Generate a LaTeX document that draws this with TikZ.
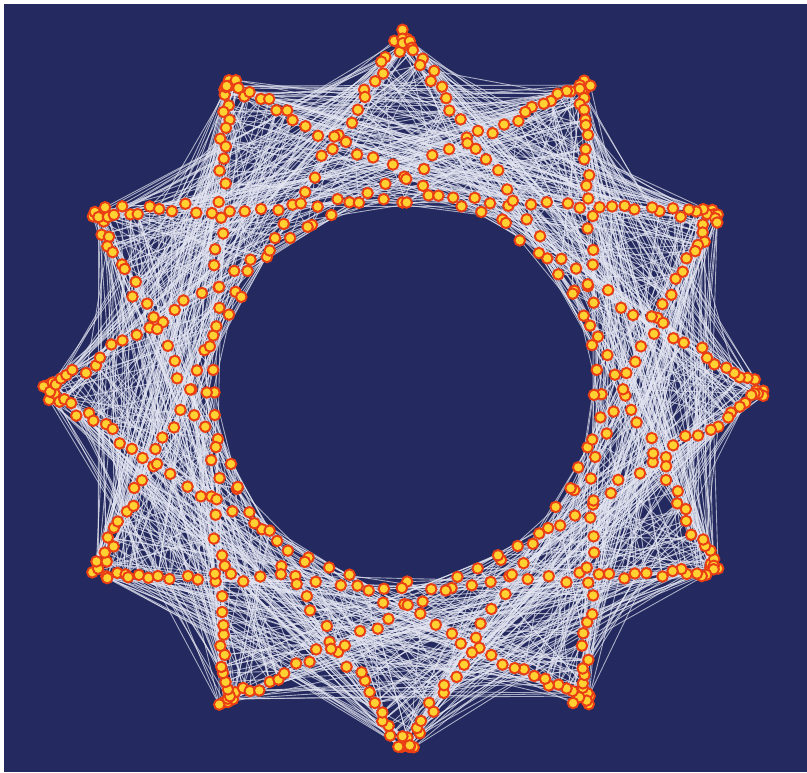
\documentclass[tikz,border=0pt]{standalone}
\definecolor{night}{RGB}{36,42,95}
\definecolor{strand}{RGB}{228,230,242}
\definecolor{bead}{RGB}{255,210,50}
\definecolor{beadrim}{RGB}{234,62,20}
\tikzset{
  edge/.style={strand, line width=0.5pt, opacity=0.7},
  bead/.style={circle, fill=bead, draw=beadrim, line width=1.1pt,
               minimum size=6pt, inner sep=0pt},
}
\begin{document}
\begin{tikzpicture}[x=2cm, y=2cm]
  \useasboundingbox (-4.05,-3.80) rectangle (4.02,3.92);
  \fill[white] (-4.05,-3.80) rectangle (4.02,3.92);
  \fill[night] (-4.01,-3.80) rectangle (4.02,3.88);
  \pgfmathsetseed{2718}
  % bead positions: tip \i, arm l/r, bead \k
  \foreach \i in {0,...,11}{
    \foreach \s/\sg in {l/-1, r/1}{
      \pgfmathsetmacro\ta{90-30*\i}
      \pgfmathsetmacro\tipx{3.58*cos(\ta)}
      \pgfmathsetmacro\tipy{3.58*sin(\ta)}
      \pgfmathsetmacro\midx{1.93*cos(\ta-60*\sg)}
      \pgfmathsetmacro\midy{1.93*sin(\ta-60*\sg)}
      \pgfmathsetmacro\armlen{veclen(\midx-\tipx,\midy-\tipy)}
      \pgfmathsetmacro\ux{(\midx-\tipx)/\armlen}
      \pgfmathsetmacro\uy{(\midy-\tipy)/\armlen}
      \foreach \k in {0,...,23}{
        \pgfmathsetmacro\pos{(\k/23)*(0.25+0.75*\k/23)+0.01*rand}
        \pgfmathsetmacro\wob{(\k<4 ? 0.07 : 0.055)*rand}
        \pgfmathsetmacro\px{\tipx+\pos*\armlen*\ux-\wob*\uy}
        \pgfmathsetmacro\py{\tipy+\pos*\armlen*\uy+\wob*\ux}
        \coordinate (p-\i-\s-\k) at (\px,\py);
        \expandafter\xdef\csname bx-\i-\s-\k\endcsname{\px}
        \expandafter\xdef\csname by-\i-\s-\k\endcsname{\py}
      }
    }
  }
  % strands
  \foreach \i in {0,...,11}{
    \foreach \s in {l,r}{
      \foreach \k in {0,...,23}{
        \foreach \e in {1,...,4}{
          \pgfmathrandominteger\dj{-3}{3}
          \pgfmathtruncatemacro\j{mod(\i+(\dj)+12,12)}
          \pgfmathrandominteger\side{0}{1}
          \ifnum\side=0 \def\sd{l}\else\def\sd{r}\fi
          \pgfmathrandominteger\mm{0}{23}
          \edef\ax{\csname bx-\i-\s-\k\endcsname}
          \edef\ay{\csname by-\i-\s-\k\endcsname}
          \edef\bx{\csname bx-\j-\sd-\mm\endcsname}
          \edef\by{\csname by-\j-\sd-\mm\endcsname}
          \pgfmathsetmacro\dx{\bx-\ax}
          \pgfmathsetmacro\dy{\by-\ay}
          \pgfmathsetmacro\foot{min(1,max(0,-(\ax*\dx+\ay*\dy)/max(\dx*\dx+\dy*\dy,0.01)))}
          \pgfmathsetmacro\cx{\ax+\foot*\dx}
          \pgfmathsetmacro\cy{\ay+\foot*\dy}
          \pgfmathtruncatemacro\keep{(\cx*\cx+\cy*\cy>3.42) && (abs(\dj)>1 || \k+\mm>11) ? 1 : 0}
          \ifnum\keep=1 \draw[edge] (p-\i-\s-\k) -- (p-\j-\sd-\mm);\fi
        }
      }
    }
  }
  % beads on top
  \foreach \i in {0,...,11}
    \foreach \s in {l,r}
      \foreach \k in {0,...,23}
        \node[bead] (n-\i-\s-\k) at (p-\i-\s-\k) {};
\end{tikzpicture}
\end{document}
